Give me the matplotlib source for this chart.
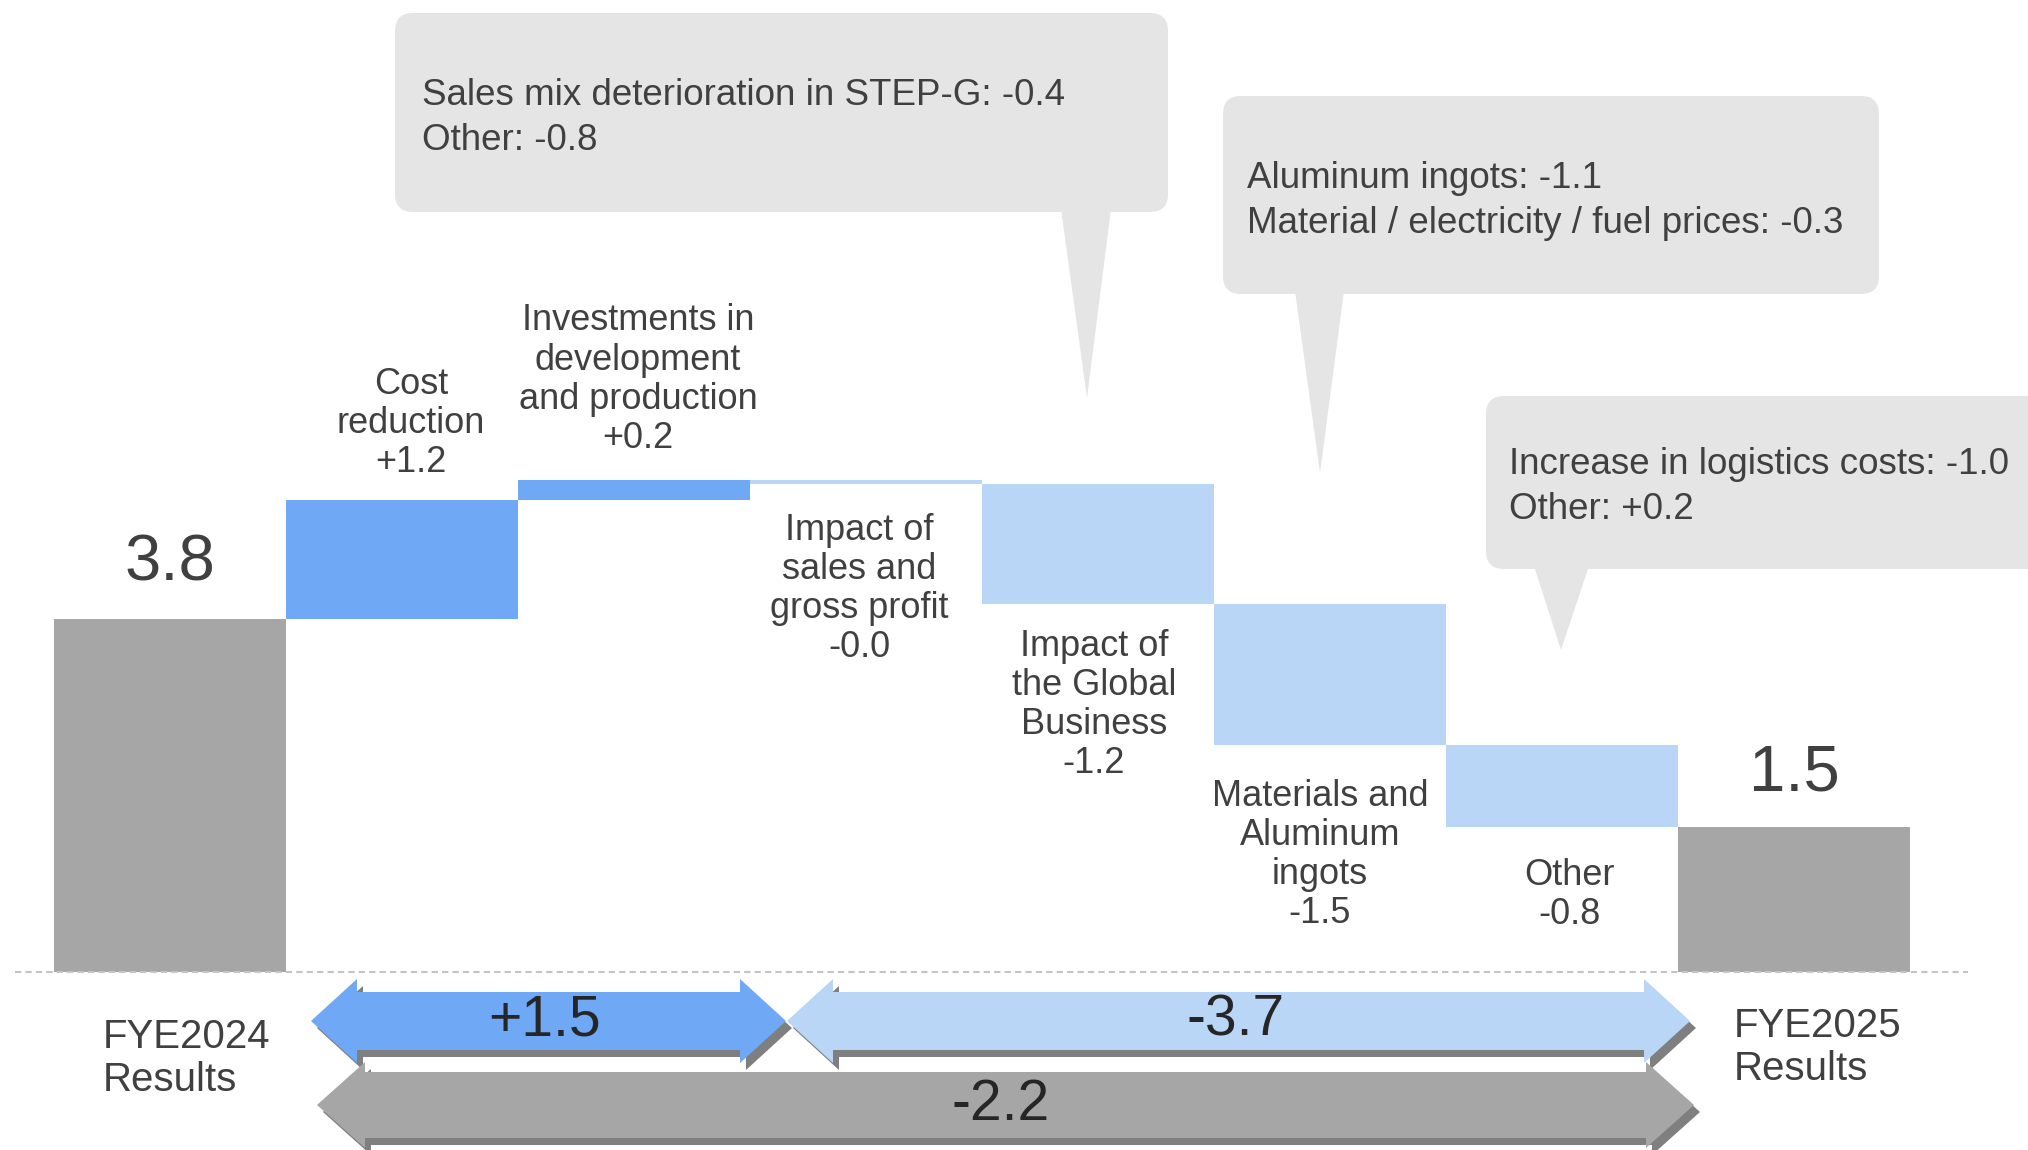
import matplotlib
matplotlib.use('Agg')
import matplotlib.pyplot as plt
from matplotlib.patches import FancyBboxPatch, Polygon
from matplotlib.transforms import Affine2D

plt.rcParams['font.family'] = ['Liberation Sans', 'DejaVu Sans']

# ---- data ----
start_name = 'FYE2024\nResults'
end_name = 'FYE2025\nResults'
start_value = 3.8
end_value = 1.56
start_text = '3.8'
end_text = '1.5'

step_names = ['Cost\nreduction',
              'Investments in\ndevelopment\nand production',
              'Impact of\nsales and\ngross profit',
              'Impact of\nthe Global\nBusiness',
              'Materials and\nAluminum\ningots',
              'Other']
step_values = [1.28, 0.22, -0.05, -1.29, -1.52, -0.88]
step_texts = ['+1.2', '+0.2', '-0.0', '-1.2', '-1.5', '-0.8']

group_texts = ['+1.5', '-3.7', '-2.2']

callout_texts = ['Sales mix deterioration in STEP-G: -0.4\nOther: -0.8',
                 'Aluminum ingots: -1.1\nMaterial / electricity / fuel prices: -0.3',
                 'Increase in logistics costs: -1.0\nOther: +0.2']

# small nudges of the step labels (pixels)
label_dx = [9, 4, -7, -4, -10, 7]
label_gap = [20, 24, 29, 25, 34, 31]

# ---- colours ----
gray = '#a6a6a6'
blue = '#6fa8f4'
light = '#b9d6f7'
shadow = '#7f7f7f'
box_col = '#e6e5e6'
txt = '#404040'

W, H = 2028, 1150
fig = plt.figure(figsize=(W / 100, H / 100), dpi=100)
ax = fig.add_axes([0, 0, 1, 1])
ax.set_xlim(-170 / 232, (W - 170) / 232)
ax.set_ylim(-(H - 972) / 92.9, 972 / 92.9)
ax.axis('off')

# pixel coordinates from the top-left corner, for the decorations
px = Affine2D().scale(1 / W, -1 / H).translate(0, 1) + fig.transFigure

# ---- waterfall bars ----
n = len(step_values)
bottoms, heights, colors = [], [], []
cum = start_value
for v in step_values:
    bottoms.append(cum if v >= 0 else cum + v)
    heights.append(abs(v))
    colors.append(blue if v > 0 else light)
    cum += v

ax.bar(0, start_value, width=1.0, color=gray, linewidth=0)
ax.bar(range(1, n + 1), heights, bottom=bottoms, width=1.0, color=colors, linewidth=0)
ax.bar(n + 1, end_value, width=1.0, color=gray, linewidth=0)

ax.annotate(start_text, (0, start_value), xytext=(0, 25), textcoords='offset pixels',
            ha='center', va='bottom', fontsize=47, color=txt)
ax.annotate(end_text, (n + 1, end_value), xytext=(0, 24), textcoords='offset pixels',
            ha='center', va='bottom', fontsize=47, color=txt)

for i, (name, v, t) in enumerate(zip(step_names, step_values, step_texts)):
    label = name + '\n' + t
    if v >= 0:
        ax.annotate(label, (i + 1, bottoms[i] + heights[i]), xytext=(label_dx[i], label_gap[i]),
                    textcoords='offset pixels', ha='center', va='bottom',
                    fontsize=26, color=txt, linespacing=1.15)
    else:
        ax.annotate(label, (i + 1, bottoms[i]), xytext=(label_dx[i], -label_gap[i]),
                    textcoords='offset pixels', ha='center', va='top',
                    fontsize=26, color=txt, linespacing=1.15)

# dashed zero line
ax.plot([15, 1968], [972, 972], transform=px, color='#c4c4c4', lw=1.5,
        ls=(0, (3, 2)), zorder=5)

# category labels
ax.text(103, 1018, start_name, transform=px, ha='left', va='top',
        fontsize=29, color=txt, linespacing=1.16)
ax.text(1734, 1007, end_name, transform=px, ha='left', va='top',
        fontsize=29, color=txt, linespacing=1.16)


# ---- bottom summary arrows ----
def double_arrow(x0, x1, yc, bh, hh, hl, color, label, lx):
    pts = [(x0, yc), (x0 + hl, yc - hh), (x0 + hl, yc - bh), (x1 - hl, yc - bh),
           (x1 - hl, yc - hh), (x1, yc), (x1 - hl, yc + hh), (x1 - hl, yc + bh),
           (x0 + hl, yc + bh), (x0 + hl, yc + hh)]
    sh = [(x + 6, y + 7) for x, y in pts]
    ax.add_patch(Polygon(sh, closed=True, transform=px, facecolor=shadow,
                         edgecolor='none', zorder=3))
    ax.add_patch(Polygon(pts, closed=True, transform=px, facecolor=color,
                         edgecolor='none', zorder=4))
    ax.text(lx, yc, label, transform=px, ha='center', va='center',
            fontsize=41, color='#262626', zorder=6)


double_arrow(317, 1694, 1105, 33, 43, 48, gray, group_texts[2], 1001)
double_arrow(787, 1690, 1021, 29, 42, 46, light, group_texts[1], 1236)
double_arrow(311, 786, 1021, 29, 42, 46, blue, group_texts[0], 545)


# ---- callouts ----
def callout(x0, y0, x1, y1, base0, base1, tip, text, tx, ty):
    ax.add_patch(FancyBboxPatch((x0, y0), x1 - x0, y1 - y0,
                                boxstyle='round,pad=0,rounding_size=18',
                                transform=px, facecolor=box_col,
                                edgecolor='none', zorder=7))
    ax.add_patch(Polygon([(base0, y1 - 3), (base1, y1 - 3), tip], closed=True,
                         transform=px, facecolor=box_col, edgecolor='none', zorder=7))
    ax.text(tx, ty, text, transform=px, ha='left', va='top', fontsize=26.5,
            color=txt, linespacing=1.38, zorder=8)


callout(395, 13, 1168, 212, 1061, 1111, (1087, 398), callout_texts[0], 422, 78)
callout(1223, 96, 1879, 294, 1295, 1344, (1320, 473), callout_texts[1], 1247, 161)
callout(1486, 396, 2060, 569, 1534, 1589, (1561, 650), callout_texts[2], 1509, 447)

fig.savefig('out.png', dpi=100)
